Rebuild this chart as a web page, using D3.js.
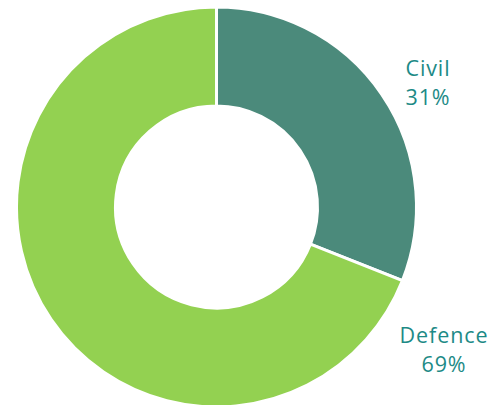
<!DOCTYPE html>
<html lang="en">
<head>
<meta charset="UTF-8">
<title>Civil vs Defence</title>
<script src="https://d3js.org/d3.v7.min.js"></script>
<style>
    body { margin: 0; background: #fff; }
    .lbl { font-family: "Open Sans", sans-serif; font-size: 21.5px; letter-spacing: 0.9px; fill: #1d8a86; }
</style>
</head>
<body>
<svg width="495" height="405"></svg>
<script>
    var categories = ["Civil", "Defence"];
    var values = [31, 69];
    var colors = ["#4b8a7b", "#93d151"];
    // label anchor points (centre of text block)
    var labelPos = [[428, 76], [444, 343]];

    var svg = d3.select("svg"),
        cx = 216.5, cy = 207,
        outer = 200, inner = 101;

    var pie = d3.pie().sort(null).value(function (d) { return d; });
    var arc = d3.arc().innerRadius(inner).outerRadius(outer);

    var g = svg.append("g").attr("transform", "translate(" + cx + "," + cy + ")");

    g.selectAll("path")
        .data(pie(values))
        .enter().append("path")
        .attr("d", arc)
        .attr("fill", function (d, i) { return colors[i]; })
        .attr("stroke", "#fff")
        .attr("stroke-width", 3);

    categories.forEach(function (c, i) {
        svg.append("text")
            .attr("class", "lbl")
            .attr("text-anchor", "middle")
            .attr("x", labelPos[i][0])
            .attr("y", labelPos[i][1])
            .text(c);
        svg.append("text")
            .attr("class", "lbl")
            .attr("text-anchor", "middle")
            .attr("x", labelPos[i][0])
            .attr("y", labelPos[i][1] + 29)
            .text(values[i] + "%");
    });
</script>
</body>
</html>
